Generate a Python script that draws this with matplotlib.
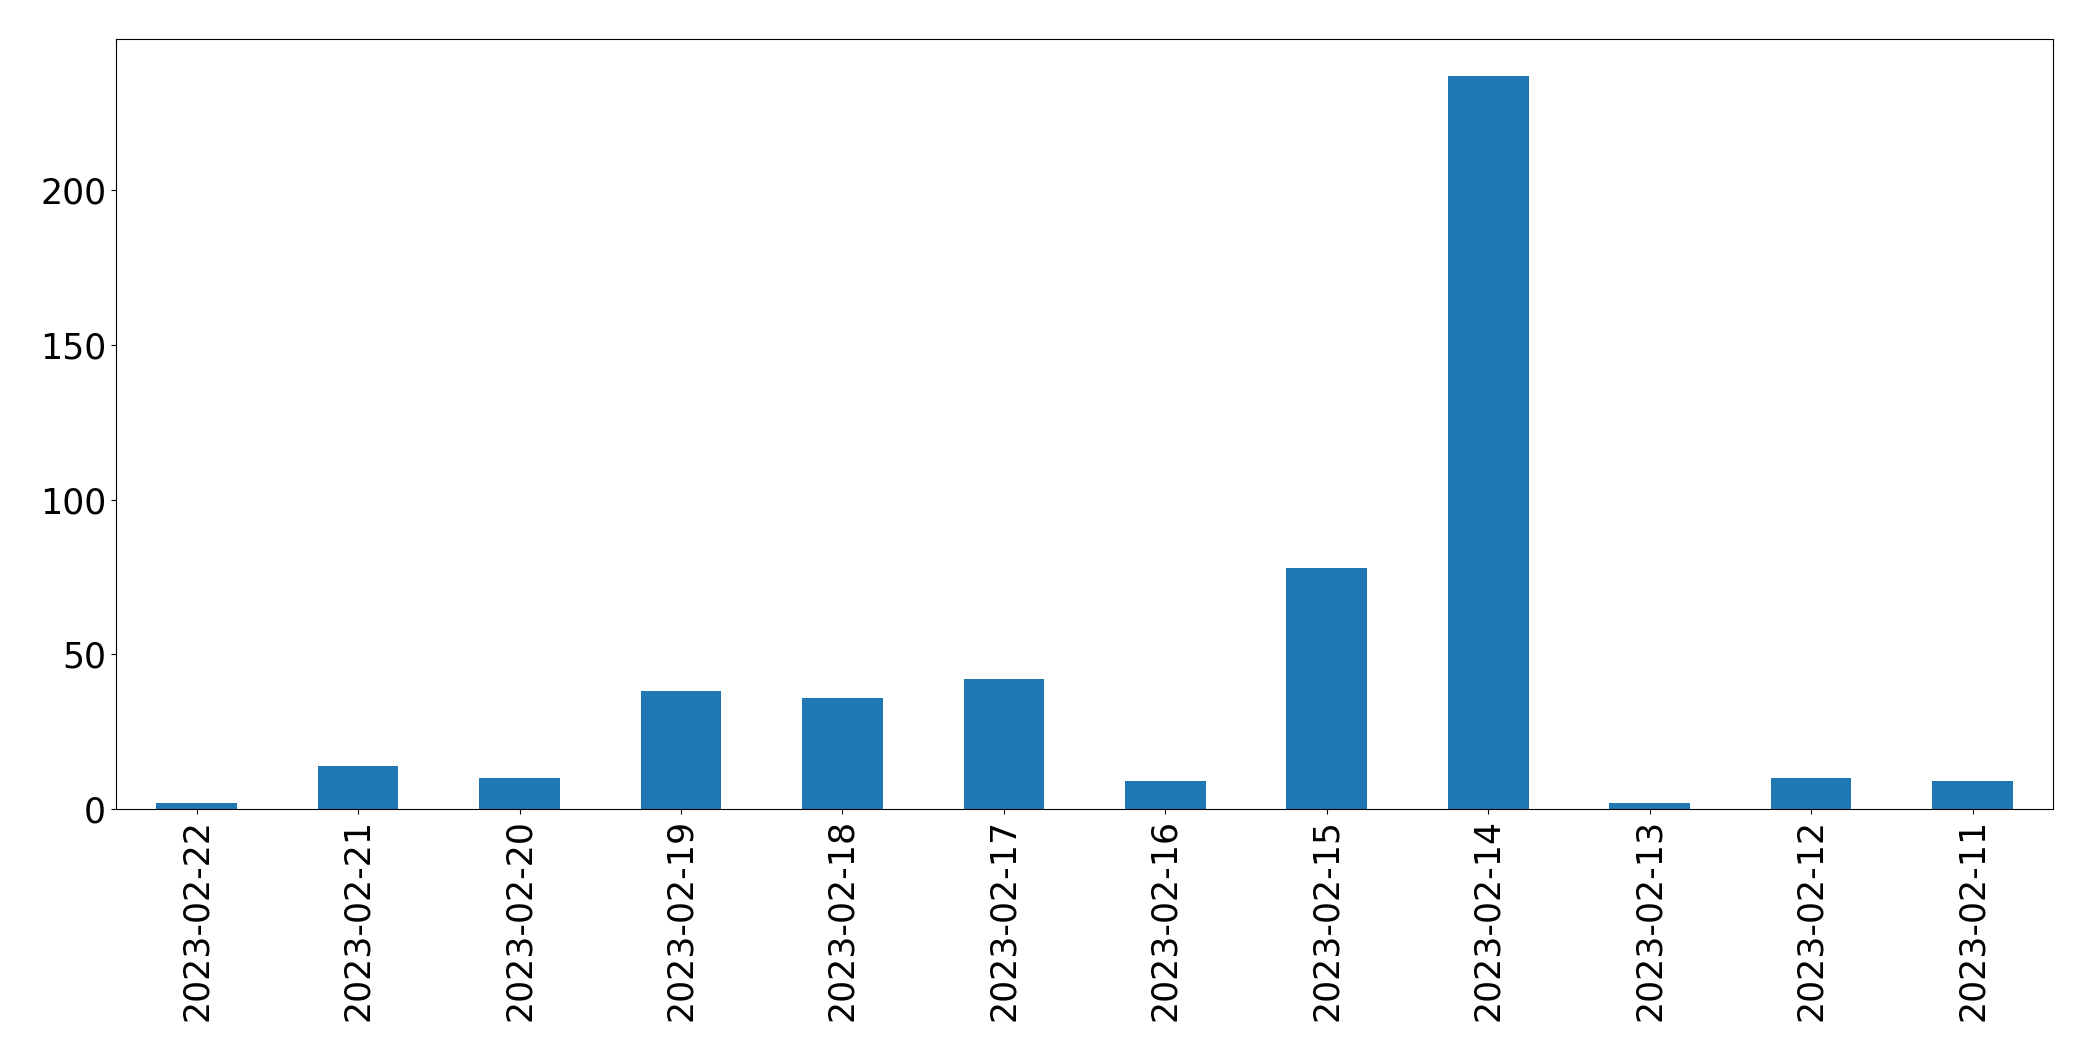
import matplotlib
matplotlib.use("Agg")
import matplotlib.pyplot as plt

# daily counts, newest first (as in the original)
dates = [
    "2023-02-22", "2023-02-21", "2023-02-20", "2023-02-19",
    "2023-02-18", "2023-02-17", "2023-02-16", "2023-02-15",
    "2023-02-14", "2023-02-13", "2023-02-12", "2023-02-11",
]
counts = [2, 14, 10, 38, 36, 42, 9, 78, 237, 2, 10, 9]

fig = plt.figure(figsize=(20.93, 10.61), dpi=100)
ax = fig.add_axes([0.0554, 0.2375, 0.9256, 0.7255])

x = range(len(dates))
ax.bar(x, counts, width=0.5, color="#1f77b4")
ax.set_xlim(-0.5, len(dates) - 0.5)
ax.set_ylim(0, max(counts) * 1.05)

ax.set_xticks(list(x))
ax.set_xticklabels(dates, rotation=90, fontsize=25)
ax.tick_params(axis="y", labelsize=25)

fig.savefig("out.png", dpi=100)
